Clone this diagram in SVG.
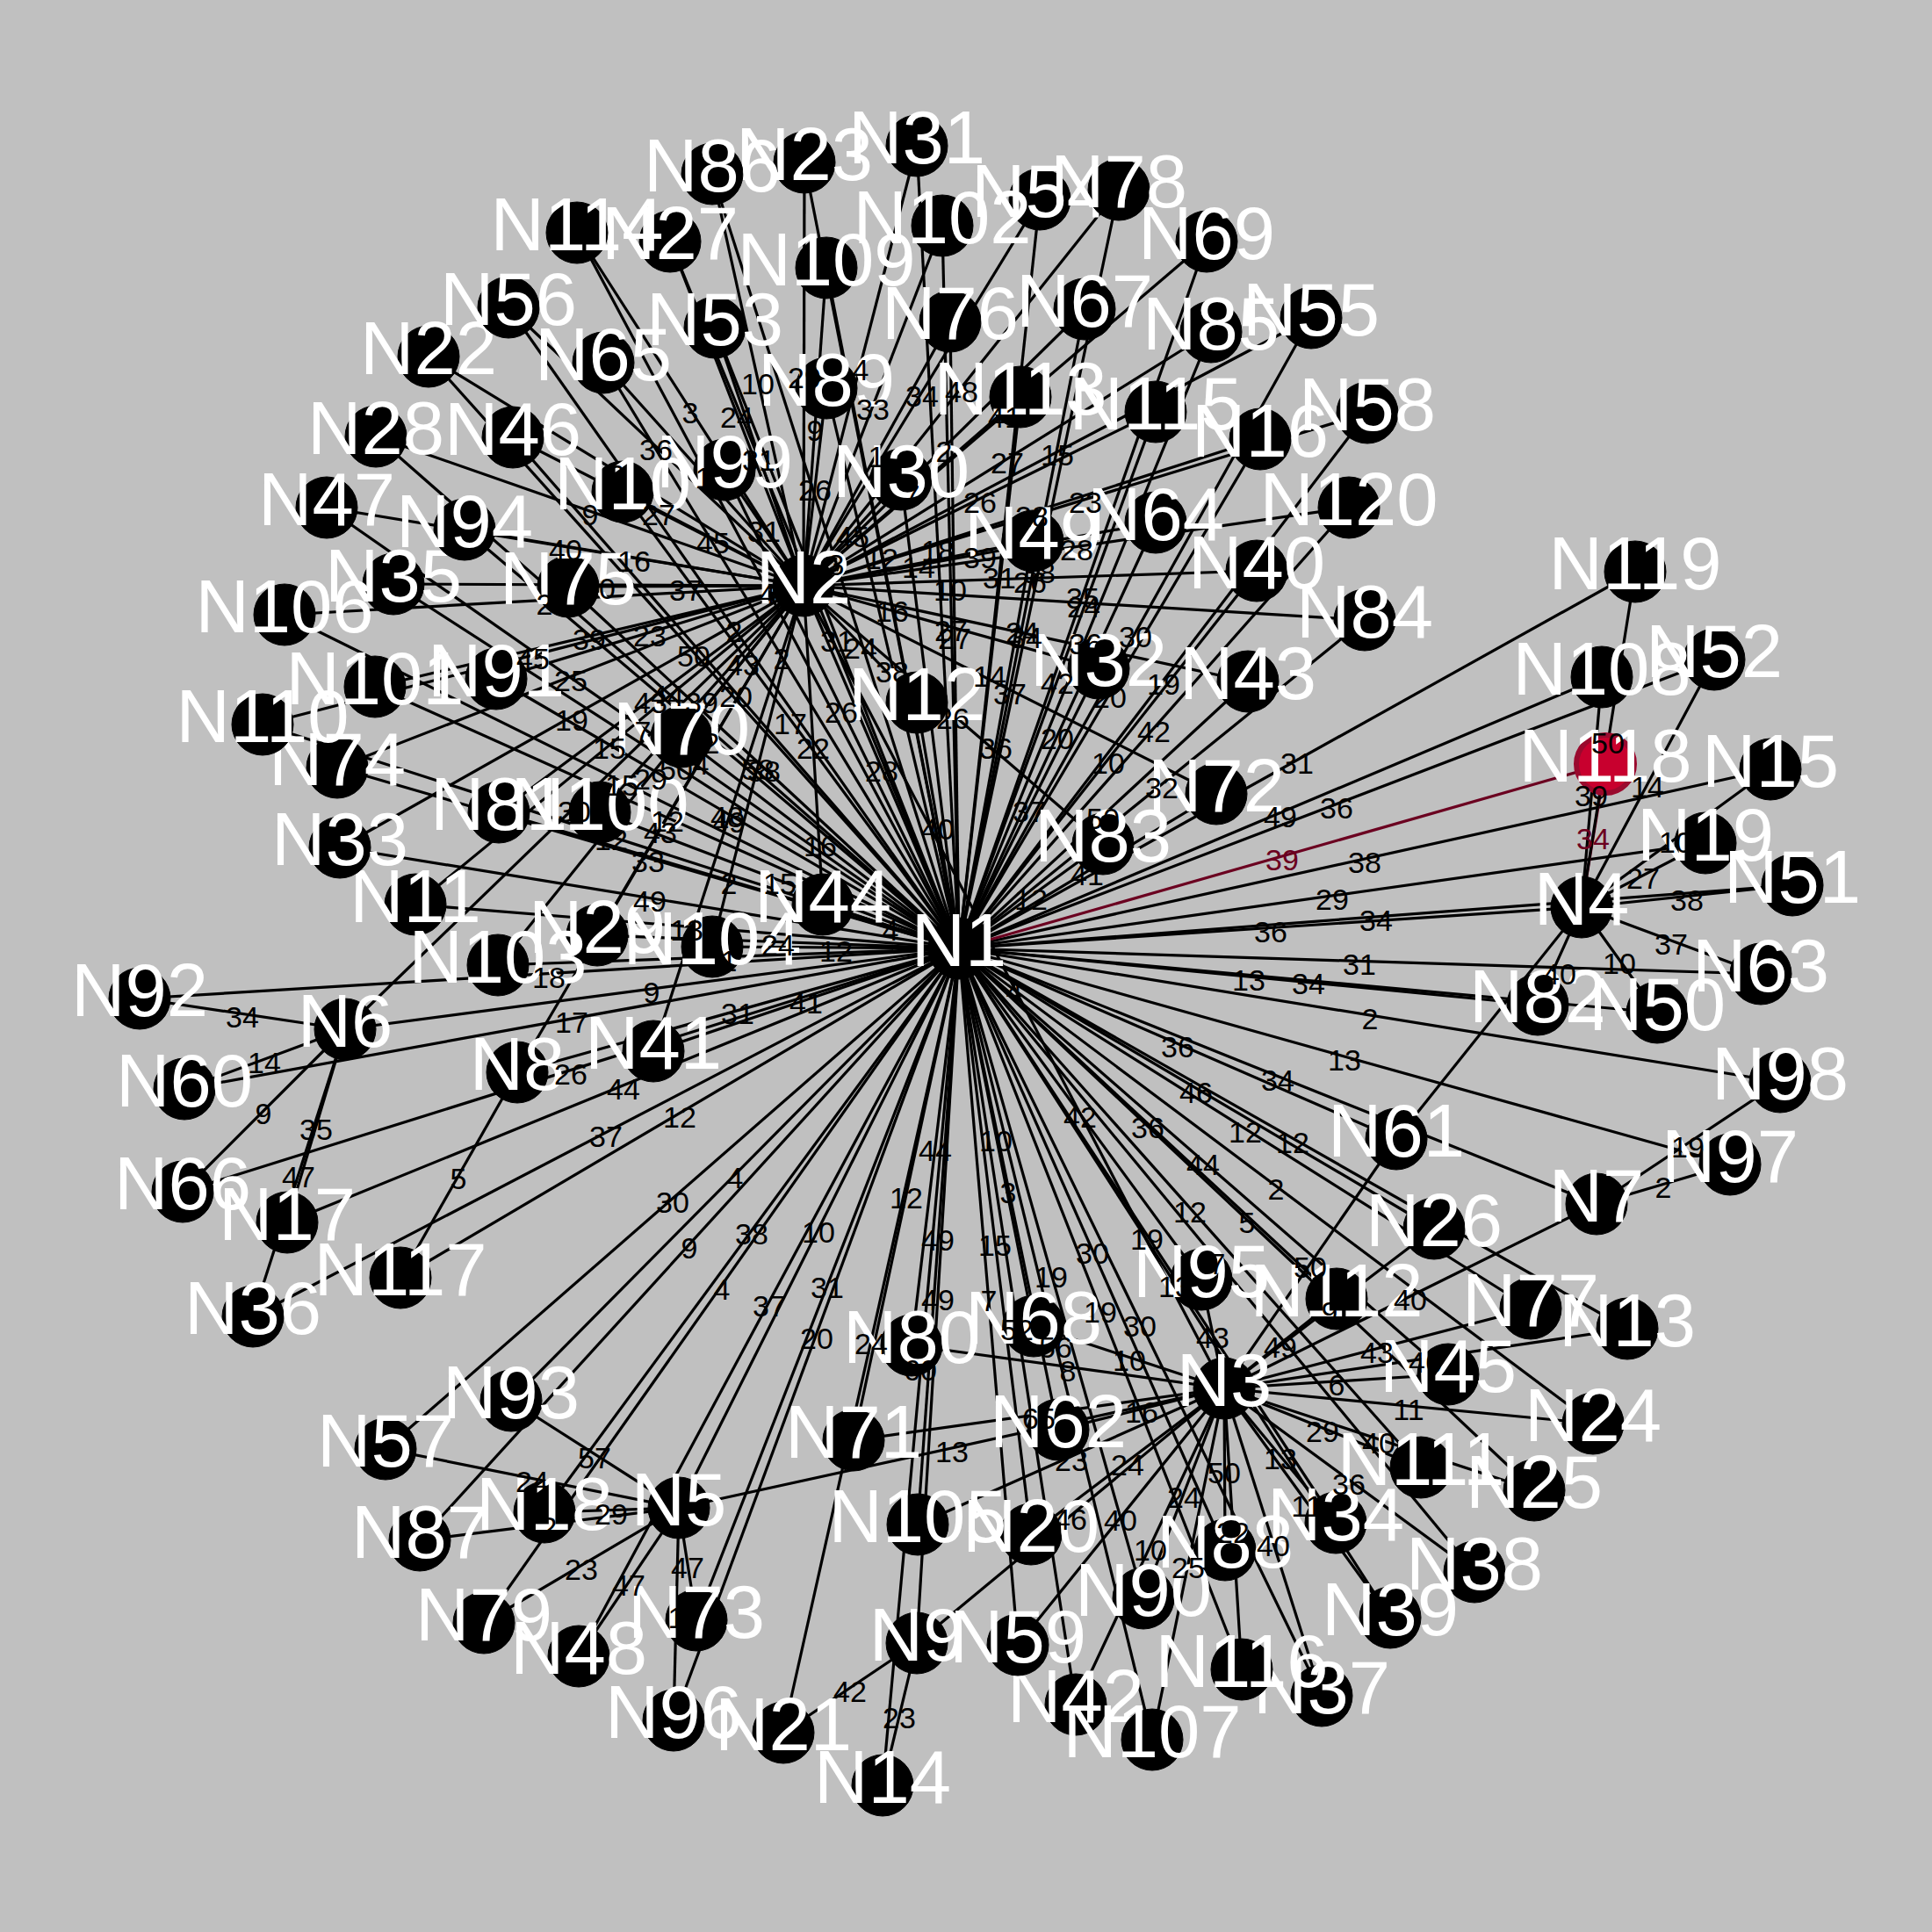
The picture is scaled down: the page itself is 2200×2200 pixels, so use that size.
<svg xmlns="http://www.w3.org/2000/svg" width="2200" height="2200" viewBox="0 0 2200 2200">
<style>
text{font-family:"Liberation Sans",Arial,sans-serif;text-anchor:middle}
.n circle{fill:#000;stroke:#000;stroke-width:1}
.n text{fill:#fff;font-size:85px}
.r circle{fill:#c8002e;stroke:#9a0a2e;stroke-width:6}
#connectors path{fill:none;stroke:#000;stroke-width:3.2}
#connectors path.h{stroke:#6b0020}
#edge-labels text{font-size:34px;fill:#000}
#edge-labels text.h{fill:#6b0020}
</style>
<rect width="2200" height="2200" fill="#c0c0c0"/>
<g id="connectors">
<path d="M1092 1080L915 667"/><path d="M1092 1080L1801 1033"/><path d="M1092 1080L773 1717"/><path d="M1092 1080L393 1172"/><path d="M1092 1080L1818 1371"/><path d="M1092 1080L589 1221"/><path d="M1092 1080L1044 1871"/><path d="M1092 1080L709 560"/><path d="M1092 1080L473 1030"/><path d="M1092 1080L1044 800"/><path d="M1092 1080L1853 1513"/><path d="M1092 1080L1005 2033"/><path d="M1092 1080L2016 876"/><path d="M1092 1080L1435 500"/><path d="M1092 1080L327 1392"/><path d="M1092 1080L620 1722"/><path d="M1092 1080L1942 960"/><path d="M1092 1080L1174 1747"/><path d="M1092 1080L892 1973"/><path d="M1092 1080L488 406"/><path d="M1092 1080L916 185"/><path d="M1092 1080L1814 1621"/><path d="M1092 1080L1747 1697"/><path d="M1092 1080L1633 1399"/><path d="M1092 1080L763 275"/><path d="M1092 1080L428 497"/><path d="M1092 1080L680 1065"/><path d="M1092 1080L1026 546"/><path d="M1092 1080L1044 166"/><path d="M1092 1080L1251 761"/><path d="M1092 1080L387 965"/><path d="M1092 1080L1521 1734"/><path d="M1092 1080L448 665"/><path d="M1092 1080L288 1499"/><path d="M1092 1080L1505 1931"/><path d="M1092 1080L1679 1790"/><path d="M1092 1080L1583 1842"/><path d="M1092 1080L1431 650"/><path d="M1092 1080L744 1197"/><path d="M1092 1080L1225 1941"/><path d="M1092 1080L1421 776"/><path d="M1092 1080L937 1030"/><path d="M1092 1080L1649 1565"/><path d="M1092 1080L584 498"/><path d="M1092 1080L372 578"/><path d="M1092 1080L659 1886"/><path d="M1092 1080L1176 616"/><path d="M1092 1080L1887 1153"/><path d="M1092 1080L2041 1008"/><path d="M1092 1080L1952 751"/><path d="M1092 1080L814 373"/><path d="M1092 1080L1184 227"/><path d="M1092 1080L1493 362"/><path d="M1092 1080L579 350"/><path d="M1092 1080L439 1650"/><path d="M1092 1080L1557 470"/><path d="M1092 1080L1159 1873"/><path d="M1092 1080L210 1240"/><path d="M1092 1080L1590 1297"/><path d="M1092 1080L1205 1628"/><path d="M1092 1080L2005 1109"/><path d="M1092 1080L1316 595"/><path d="M1092 1080L687 413"/><path d="M1092 1080L208 1357"/><path d="M1092 1080L1235 352"/><path d="M1092 1080L1177 1510"/><path d="M1092 1080L1374 275"/><path d="M1092 1080L776 839"/><path d="M1092 1080L972 1640"/><path d="M1092 1080L1385 904"/><path d="M1092 1080L793 1845"/><path d="M1092 1080L384 874"/><path d="M1092 1080L647 668"/><path d="M1092 1080L1082 366"/><path d="M1092 1080L1743 1490"/><path d="M1092 1080L1274 216"/><path d="M1092 1080L551 1848"/><path d="M1092 1080L1038 1532"/><path d="M1092 1080L568 925"/><path d="M1092 1080L1751 1144"/><path d="M1092 1080L1256 961"/><path d="M1092 1080L1554 706"/><path d="M1092 1080L1379 378"/><path d="M1092 1080L811 198"/><path d="M1092 1080L478 1754"/><path d="M1092 1080L1395 1765"/><path d="M1092 1080L941 442"/><path d="M1092 1080L1302 1820"/><path d="M1092 1080L565 773"/><path d="M1092 1080L159 1137"/><path d="M1092 1080L582 1595"/><path d="M1092 1080L529 603"/><path d="M1092 1080L1368 1457"/><path d="M1092 1080L767 1959"/><path d="M1092 1080L1970 1326"/><path d="M1092 1080L2027 1232"/><path d="M1092 1080L825 535"/><path d="M1092 1080L683 925"/><path d="M1092 1080L427 782"/><path d="M1092 1080L1073 257"/><path d="M1092 1080L567 1099"/><path d="M1092 1080L811 1078"/><path d="M1092 1080L1045 1736"/><path d="M1092 1080L324 700"/><path d="M1092 1080L1312 1981"/><path d="M1092 1080L1824 771"/><path d="M1092 1080L941 305"/><path d="M1092 1080L299 825"/><path d="M1092 1080L1618 1671"/><path d="M1092 1080L1522 1479"/><path d="M1092 1080L1162 452"/><path d="M1092 1080L657 265"/><path d="M1092 1080L1316 469"/><path d="M1092 1080L1414 1901"/><path d="M1092 1080L456 1455"/><path class="h" d="M1092 1080L1828 870"/><path d="M1092 1080L1862 651"/><path d="M1092 1080L1536 578"/>
<path d="M915 667L1394 1581"/><path d="M915 667L393 1172"/><path d="M915 667L589 1221"/><path d="M915 667L709 560"/><path d="M915 667L473 1030"/><path d="M915 667L1044 800"/><path d="M915 667L1435 500"/><path d="M915 667L488 406"/><path d="M915 667L916 185"/><path d="M915 667L763 275"/><path d="M915 667L428 497"/><path d="M915 667L680 1065"/><path d="M915 667L1026 546"/><path d="M915 667L1044 166"/><path d="M915 667L1251 761"/><path d="M915 667L387 965"/><path d="M915 667L448 665"/><path d="M915 667L1431 650"/><path d="M915 667L744 1197"/><path d="M915 667L1421 776"/><path d="M915 667L937 1030"/><path d="M915 667L584 498"/><path d="M915 667L372 578"/><path d="M915 667L1176 616"/><path d="M915 667L814 373"/><path d="M915 667L1184 227"/><path d="M915 667L1493 362"/><path d="M915 667L579 350"/><path d="M915 667L1557 470"/><path d="M915 667L1316 595"/><path d="M915 667L687 413"/><path d="M915 667L1235 352"/><path d="M915 667L1374 275"/><path d="M915 667L776 839"/><path d="M915 667L1385 904"/><path d="M915 667L384 874"/><path d="M915 667L647 668"/><path d="M915 667L1082 366"/><path d="M915 667L1274 216"/><path d="M915 667L568 925"/><path d="M915 667L1256 961"/><path d="M915 667L1554 706"/><path d="M915 667L1379 378"/><path d="M915 667L811 198"/><path d="M915 667L941 442"/><path d="M915 667L565 773"/><path d="M915 667L529 603"/><path d="M915 667L825 535"/><path d="M915 667L683 925"/><path d="M915 667L427 782"/><path d="M915 667L1073 257"/><path d="M915 667L567 1099"/><path d="M915 667L811 1078"/><path d="M915 667L324 700"/><path d="M915 667L941 305"/><path d="M915 667L299 825"/><path d="M915 667L1162 452"/><path d="M915 667L657 265"/><path d="M915 667L1316 469"/><path d="M915 667L1536 578"/>
<path d="M1394 1581L773 1717"/><path d="M1394 1581L1818 1371"/><path d="M1394 1581L1044 1871"/><path d="M1394 1581L1853 1513"/><path d="M1394 1581L1174 1747"/><path d="M1394 1581L1814 1621"/><path d="M1394 1581L1747 1697"/><path d="M1394 1581L1633 1399"/><path d="M1394 1581L1521 1734"/><path d="M1394 1581L1505 1931"/><path d="M1394 1581L1679 1790"/><path d="M1394 1581L1583 1842"/><path d="M1394 1581L1225 1941"/><path d="M1394 1581L1649 1565"/><path d="M1394 1581L1159 1873"/><path d="M1394 1581L1590 1297"/><path d="M1394 1581L1205 1628"/><path d="M1394 1581L1177 1510"/><path d="M1394 1581L972 1640"/><path d="M1394 1581L1743 1490"/><path d="M1394 1581L1038 1532"/><path d="M1394 1581L1395 1765"/><path d="M1394 1581L1302 1820"/><path d="M1394 1581L1368 1457"/><path d="M1394 1581L1045 1736"/><path d="M1394 1581L1312 1981"/><path d="M1394 1581L1618 1671"/><path d="M1394 1581L1522 1479"/><path d="M1394 1581L1414 1901"/>
<path d="M1801 1033L2016 876"/><path d="M1801 1033L1942 960"/><path d="M1801 1033L1887 1153"/><path d="M1801 1033L2041 1008"/><path d="M1801 1033L1952 751"/><path d="M1801 1033L1590 1297"/><path d="M1801 1033L2005 1109"/><path d="M1801 1033L1751 1144"/><path d="M1801 1033L1824 771"/><path class="h" d="M1801 1033L1828 870"/><path d="M1801 1033L1862 651"/>
<path d="M773 1717L620 1722"/><path d="M773 1717L659 1886"/><path d="M773 1717L439 1650"/><path d="M773 1717L793 1845"/><path d="M773 1717L551 1848"/><path d="M773 1717L478 1754"/><path d="M773 1717L582 1595"/><path d="M773 1717L767 1959"/>
<path d="M393 1172L327 1392"/><path d="M393 1172L288 1499"/><path d="M393 1172L210 1240"/><path d="M393 1172L208 1357"/><path d="M393 1172L159 1137"/>
<path d="M1818 1371L1970 1326"/><path d="M1818 1371L2027 1232"/>
<path d="M589 1221L456 1455"/><path d="M1044 1871L1005 2033"/><path d="M1044 1871L892 1973"/>
</g>
<g id="n1" class="n"><circle cx="1092" cy="1080" r="35"/><text x="1092" y="1100">N1</text></g>
<g id="n2" class="n"><circle cx="915" cy="667" r="35"/><text x="915" y="687">N2</text></g>
<g id="n3" class="n"><circle cx="1394" cy="1581" r="35"/><text x="1394" y="1601">N3</text></g>
<g id="n4" class="n"><circle cx="1801" cy="1033" r="35"/><text x="1801" y="1053">N4</text></g>
<g id="n5" class="n"><circle cx="773" cy="1717" r="35"/><text x="773" y="1737">N5</text></g>
<g id="n6" class="n"><circle cx="393" cy="1172" r="35"/><text x="393" y="1192">N6</text></g>
<g id="n7" class="n"><circle cx="1818" cy="1371" r="35"/><text x="1818" y="1391">N7</text></g>
<g id="n8" class="n"><circle cx="589" cy="1221" r="35"/><text x="589" y="1241">N8</text></g>
<g id="n9" class="n"><circle cx="1044" cy="1871" r="35"/><text x="1044" y="1891">N9</text></g>
<g id="n10" class="n"><circle cx="709" cy="560" r="35"/><text x="709" y="580">N10</text></g>
<g id="n11" class="n"><circle cx="473" cy="1030" r="35"/><text x="473" y="1050">N11</text></g>
<g id="n12" class="n"><circle cx="1044" cy="800" r="35"/><text x="1044" y="820">N12</text></g>
<g id="n13" class="n"><circle cx="1853" cy="1513" r="35"/><text x="1853" y="1533">N13</text></g>
<g id="n14" class="n"><circle cx="1005" cy="2033" r="35"/><text x="1005" y="2053">N14</text></g>
<g id="n15" class="n"><circle cx="2016" cy="876" r="35"/><text x="2016" y="896">N15</text></g>
<g id="n16" class="n"><circle cx="1435" cy="500" r="35"/><text x="1435" y="520">N16</text></g>
<g id="n17" class="n"><circle cx="327" cy="1392" r="35"/><text x="327" y="1412">N17</text></g>
<g id="n18" class="n"><circle cx="620" cy="1722" r="35"/><text x="620" y="1742">N18</text></g>
<g id="n19" class="n"><circle cx="1942" cy="960" r="35"/><text x="1942" y="980">N19</text></g>
<g id="n20" class="n"><circle cx="1174" cy="1747" r="35"/><text x="1174" y="1767">N20</text></g>
<g id="n21" class="n"><circle cx="892" cy="1973" r="35"/><text x="892" y="1993">N21</text></g>
<g id="n22" class="n"><circle cx="488" cy="406" r="35"/><text x="488" y="426">N22</text></g>
<g id="n23" class="n"><circle cx="916" cy="185" r="35"/><text x="916" y="205">N23</text></g>
<g id="n24" class="n"><circle cx="1814" cy="1621" r="35"/><text x="1814" y="1641">N24</text></g>
<g id="n25" class="n"><circle cx="1747" cy="1697" r="35"/><text x="1747" y="1717">N25</text></g>
<g id="n26" class="n"><circle cx="1633" cy="1399" r="35"/><text x="1633" y="1419">N26</text></g>
<g id="n27" class="n"><circle cx="763" cy="275" r="35"/><text x="763" y="295">N27</text></g>
<g id="n28" class="n"><circle cx="428" cy="497" r="35"/><text x="428" y="517">N28</text></g>
<g id="n29" class="n"><circle cx="680" cy="1065" r="35"/><text x="680" y="1085">N29</text></g>
<g id="n30" class="n"><circle cx="1026" cy="546" r="35"/><text x="1026" y="566">N30</text></g>
<g id="n31" class="n"><circle cx="1044" cy="166" r="35"/><text x="1044" y="186">N31</text></g>
<g id="n32" class="n"><circle cx="1251" cy="761" r="35"/><text x="1251" y="781">N32</text></g>
<g id="n33" class="n"><circle cx="387" cy="965" r="35"/><text x="387" y="985">N33</text></g>
<g id="n34" class="n"><circle cx="1521" cy="1734" r="35"/><text x="1521" y="1754">N34</text></g>
<g id="n35" class="n"><circle cx="448" cy="665" r="35"/><text x="448" y="685">N35</text></g>
<g id="n36" class="n"><circle cx="288" cy="1499" r="35"/><text x="288" y="1519">N36</text></g>
<g id="n37" class="n"><circle cx="1505" cy="1931" r="35"/><text x="1505" y="1951">N37</text></g>
<g id="n38" class="n"><circle cx="1679" cy="1790" r="35"/><text x="1679" y="1810">N38</text></g>
<g id="n39" class="n"><circle cx="1583" cy="1842" r="35"/><text x="1583" y="1862">N39</text></g>
<g id="n40" class="n"><circle cx="1431" cy="650" r="35"/><text x="1431" y="670">N40</text></g>
<g id="n41" class="n"><circle cx="744" cy="1197" r="35"/><text x="744" y="1217">N41</text></g>
<g id="n42" class="n"><circle cx="1225" cy="1941" r="35"/><text x="1225" y="1961">N42</text></g>
<g id="n43" class="n"><circle cx="1421" cy="776" r="35"/><text x="1421" y="796">N43</text></g>
<g id="n44" class="n"><circle cx="937" cy="1030" r="35"/><text x="937" y="1050">N44</text></g>
<g id="n45" class="n"><circle cx="1649" cy="1565" r="35"/><text x="1649" y="1585">N45</text></g>
<g id="n46" class="n"><circle cx="584" cy="498" r="35"/><text x="584" y="518">N46</text></g>
<g id="n47" class="n"><circle cx="372" cy="578" r="35"/><text x="372" y="598">N47</text></g>
<g id="n48" class="n"><circle cx="659" cy="1886" r="35"/><text x="659" y="1906">N48</text></g>
<g id="n49" class="n"><circle cx="1176" cy="616" r="35"/><text x="1176" y="636">N49</text></g>
<g id="n50" class="n"><circle cx="1887" cy="1153" r="35"/><text x="1887" y="1173">N50</text></g>
<g id="n51" class="n"><circle cx="2041" cy="1008" r="35"/><text x="2041" y="1028">N51</text></g>
<g id="n52" class="n"><circle cx="1952" cy="751" r="35"/><text x="1952" y="771">N52</text></g>
<g id="n53" class="n"><circle cx="814" cy="373" r="35"/><text x="814" y="393">N53</text></g>
<g id="n54" class="n"><circle cx="1184" cy="227" r="35"/><text x="1184" y="247">N54</text></g>
<g id="n55" class="n"><circle cx="1493" cy="362" r="35"/><text x="1493" y="382">N55</text></g>
<g id="n56" class="n"><circle cx="579" cy="350" r="35"/><text x="579" y="370">N56</text></g>
<g id="n57" class="n"><circle cx="439" cy="1650" r="35"/><text x="439" y="1670">N57</text></g>
<g id="n58" class="n"><circle cx="1557" cy="470" r="35"/><text x="1557" y="490">N58</text></g>
<g id="n59" class="n"><circle cx="1159" cy="1873" r="35"/><text x="1159" y="1893">N59</text></g>
<g id="n60" class="n"><circle cx="210" cy="1240" r="35"/><text x="210" y="1260">N60</text></g>
<g id="n61" class="n"><circle cx="1590" cy="1297" r="35"/><text x="1590" y="1317">N61</text></g>
<g id="n62" class="n"><circle cx="1205" cy="1628" r="35"/><text x="1205" y="1648">N62</text></g>
<g id="n63" class="n"><circle cx="2005" cy="1109" r="35"/><text x="2005" y="1129">N63</text></g>
<g id="n64" class="n"><circle cx="1316" cy="595" r="35"/><text x="1316" y="615">N64</text></g>
<g id="n65" class="n"><circle cx="687" cy="413" r="35"/><text x="687" y="433">N65</text></g>
<g id="n66" class="n"><circle cx="208" cy="1357" r="35"/><text x="208" y="1377">N66</text></g>
<g id="n67" class="n"><circle cx="1235" cy="352" r="35"/><text x="1235" y="372">N67</text></g>
<g id="n68" class="n"><circle cx="1177" cy="1510" r="35"/><text x="1177" y="1530">N68</text></g>
<g id="n69" class="n"><circle cx="1374" cy="275" r="35"/><text x="1374" y="295">N69</text></g>
<g id="n70" class="n"><circle cx="776" cy="839" r="35"/><text x="776" y="859">N70</text></g>
<g id="n71" class="n"><circle cx="972" cy="1640" r="35"/><text x="972" y="1660">N71</text></g>
<g id="n72" class="n"><circle cx="1385" cy="904" r="35"/><text x="1385" y="924">N72</text></g>
<g id="n73" class="n"><circle cx="793" cy="1845" r="35"/><text x="793" y="1865">N73</text></g>
<g id="n74" class="n"><circle cx="384" cy="874" r="35"/><text x="384" y="894">N74</text></g>
<g id="n75" class="n"><circle cx="647" cy="668" r="35"/><text x="647" y="688">N75</text></g>
<g id="n76" class="n"><circle cx="1082" cy="366" r="35"/><text x="1082" y="386">N76</text></g>
<g id="n77" class="n"><circle cx="1743" cy="1490" r="35"/><text x="1743" y="1510">N77</text></g>
<g id="n78" class="n"><circle cx="1274" cy="216" r="35"/><text x="1274" y="236">N78</text></g>
<g id="n79" class="n"><circle cx="551" cy="1848" r="35"/><text x="551" y="1868">N79</text></g>
<g id="n80" class="n"><circle cx="1038" cy="1532" r="35"/><text x="1038" y="1552">N80</text></g>
<g id="n81" class="n"><circle cx="568" cy="925" r="35"/><text x="568" y="945">N81</text></g>
<g id="n82" class="n"><circle cx="1751" cy="1144" r="35"/><text x="1751" y="1164">N82</text></g>
<g id="n83" class="n"><circle cx="1256" cy="961" r="35"/><text x="1256" y="981">N83</text></g>
<g id="n84" class="n"><circle cx="1554" cy="706" r="35"/><text x="1554" y="726">N84</text></g>
<g id="n85" class="n"><circle cx="1379" cy="378" r="35"/><text x="1379" y="398">N85</text></g>
<g id="n86" class="n"><circle cx="811" cy="198" r="35"/><text x="811" y="218">N86</text></g>
<g id="n87" class="n"><circle cx="478" cy="1754" r="35"/><text x="478" y="1774">N87</text></g>
<g id="n88" class="n"><circle cx="1395" cy="1765" r="35"/><text x="1395" y="1785">N88</text></g>
<g id="n89" class="n"><circle cx="941" cy="442" r="35"/><text x="941" y="462">N89</text></g>
<g id="n90" class="n"><circle cx="1302" cy="1820" r="35"/><text x="1302" y="1840">N90</text></g>
<g id="n91" class="n"><circle cx="565" cy="773" r="35"/><text x="565" y="793">N91</text></g>
<g id="n92" class="n"><circle cx="159" cy="1137" r="35"/><text x="159" y="1157">N92</text></g>
<g id="n93" class="n"><circle cx="582" cy="1595" r="35"/><text x="582" y="1615">N93</text></g>
<g id="n94" class="n"><circle cx="529" cy="603" r="35"/><text x="529" y="623">N94</text></g>
<g id="n95" class="n"><circle cx="1368" cy="1457" r="35"/><text x="1368" y="1477">N95</text></g>
<g id="n96" class="n"><circle cx="767" cy="1959" r="35"/><text x="767" y="1979">N96</text></g>
<g id="n97" class="n"><circle cx="1970" cy="1326" r="35"/><text x="1970" y="1346">N97</text></g>
<g id="n98" class="n"><circle cx="2027" cy="1232" r="35"/><text x="2027" y="1252">N98</text></g>
<g id="n99" class="n"><circle cx="825" cy="535" r="35"/><text x="825" y="555">N99</text></g>
<g id="n100" class="n"><circle cx="683" cy="925" r="35"/><text x="683" y="945">N100</text></g>
<g id="n101" class="n"><circle cx="427" cy="782" r="35"/><text x="427" y="802">N101</text></g>
<g id="n102" class="n"><circle cx="1073" cy="257" r="35"/><text x="1073" y="277">N102</text></g>
<g id="n103" class="n"><circle cx="567" cy="1099" r="35"/><text x="567" y="1119">N103</text></g>
<g id="n104" class="n"><circle cx="811" cy="1078" r="35"/><text x="811" y="1098">N104</text></g>
<g id="n105" class="n"><circle cx="1045" cy="1736" r="35"/><text x="1045" y="1756">N105</text></g>
<g id="n106" class="n"><circle cx="324" cy="700" r="35"/><text x="324" y="720">N106</text></g>
<g id="n107" class="n"><circle cx="1312" cy="1981" r="35"/><text x="1312" y="2001">N107</text></g>
<g id="n108" class="n"><circle cx="1824" cy="771" r="35"/><text x="1824" y="791">N108</text></g>
<g id="n109" class="n"><circle cx="941" cy="305" r="35"/><text x="941" y="325">N109</text></g>
<g id="n110" class="n"><circle cx="299" cy="825" r="35"/><text x="299" y="845">N110</text></g>
<g id="n111" class="n"><circle cx="1618" cy="1671" r="35"/><text x="1618" y="1691">N111</text></g>
<g id="n112" class="n"><circle cx="1522" cy="1479" r="35"/><text x="1522" y="1499">N112</text></g>
<g id="n113" class="n"><circle cx="1162" cy="452" r="35"/><text x="1162" y="472">N113</text></g>
<g id="n114" class="n"><circle cx="657" cy="265" r="35"/><text x="657" y="285">N114</text></g>
<g id="n115" class="n"><circle cx="1316" cy="469" r="35"/><text x="1316" y="489">N115</text></g>
<g id="n116" class="n"><circle cx="1414" cy="1901" r="35"/><text x="1414" y="1921">N116</text></g>
<g id="n117" class="n"><circle cx="456" cy="1455" r="35"/><text x="456" y="1475">N117</text></g>
<g id="n118" class="n r"><circle cx="1828" cy="870" r="33"/><text x="1828" y="890">N118</text></g>
<g id="n119" class="n"><circle cx="1862" cy="651" r="35"/><text x="1862" y="671">N119</text></g>
<g id="n120" class="n"><circle cx="1536" cy="578" r="35"/><text x="1536" y="598">N120</text></g>
<g id="edge-labels">
<text x="1004" y="890">28</text><text x="1447" y="1073">36</text><text x="932" y="1415">10</text><text x="742" y="1142">9</text><text x="1455" y="1242">34</text><text x="840" y="1166">31</text><text x="1068" y="1492">49</text><text x="900" y="836">17</text><text x="782" y="1071">13</text><text x="1068" y="956">40</text><text x="1472" y="1313">12</text><text x="1048" y="1572">60</text><text x="1554" y="994">38</text><text x="1264" y="806">20</text><text x="710" y="1252">44</text><text x="856" y="1417">38</text><text x="1517" y="1036">29</text><text x="1133" y="1430">15</text><text x="992" y="1542">24</text><text x="790" y="759">50</text><text x="1004" y="648">12</text><text x="1453" y="1366">2</text><text x="1420" y="1404">5</text><text x="1362" y="1256">46</text><text x="760" y="804">44</text><text x="886" y="1088">24</text><text x="1068" y="639">18</text><text x="1172" y="936">37</text><text x="740" y="1038">49</text><text x="1306" y="1423">19</text><text x="770" y="888">50</text><text x="690" y="1306">37</text><text x="1298" y="1522">30</text><text x="1386" y="1451">7</text><text x="1338" y="1477">13</text><text x="1262" y="881">10</text><text x="918" y="1154">41</text><text x="1158" y="1526">52</text><text x="1256" y="944">50</text><text x="1014" y="1071">4</text><text x="1370" y="1338">44</text><text x="838" y="805">20</text><text x="732" y="845">7</text><text x="876" y="1499">37</text><text x="1134" y="864">36</text><text x="1490" y="1132">34</text><text x="1567" y="1060">34</text><text x="1522" y="932">36</text><text x="953" y="742">31</text><text x="1138" y="670">31</text><text x="1293" y="737">30</text><text x="836" y="731">2</text><text x="766" y="1381">30</text><text x="1325" y="791">19</text><text x="1126" y="1493">7</text><text x="651" y="1176">17</text><text x="1341" y="1204">36</text><text x="1148" y="1370">3</text><text x="1548" y="1110">31</text><text x="1204" y="853">20</text><text x="890" y="762">2</text><text x="650" y="1235">26</text><text x="1164" y="732">24</text><text x="1134" y="1311">10</text><text x="1233" y="693">35</text><text x="934" y="975">16</text><text x="1032" y="1376">12</text><text x="1238" y="1008">41</text><text x="942" y="1478">31</text><text x="738" y="993">33</text><text x="870" y="890">38</text><text x="1087" y="739">27</text><text x="1418" y="1301">12</text><text x="1183" y="664">38</text><text x="822" y="1480">4</text><text x="1065" y="1322">44</text><text x="830" y="1018">2</text><text x="1422" y="1128">13</text><text x="1174" y="1036">12</text><text x="1323" y="909">32</text><text x="1236" y="745">36</text><text x="952" y="655">3</text><text x="785" y="1433">9</text><text x="1244" y="1439">30</text><text x="1016" y="777">38</text><text x="1197" y="1466">19</text><text x="828" y="942">48</text><text x="625" y="1125">18</text><text x="837" y="1353">4</text><text x="810" y="858">2</text><text x="1230" y="1284">42</text><text x="930" y="1536">20</text><text x="1531" y="1219">13</text><text x="1560" y="1172">2</text><text x="958" y="823">26</text><text x="888" y="1018">15</text><text x="760" y="947">12</text><text x="1082" y="684">10</text><text x="830" y="1106">1</text><text x="952" y="1095">12</text><text x="1068" y="1424">49</text><text x="708" y="906">15</text><text x="1202" y="1546">56</text><text x="1458" y="942">49</text><text x="1016" y="708">16</text><text x="696" y="968">12</text><text x="1355" y="1392">12</text><text x="1307" y="1296">36</text><text x="1127" y="782">14</text><text x="874" y="688">4</text><text x="1204" y="790">42</text><text x="1253" y="1506">19</text><text x="774" y="1284">12</text><text class="h" x="1460" y="991">39</text><text x="1477" y="881">31</text><text x="1314" y="845">42</text>
<text x="1155" y="1140">4</text><text x="654" y="936">30</text><text x="752" y="960">43</text><text x="812" y="630">45</text><text x="694" y="864">15</text><text x="980" y="750">24</text><text x="1175" y="600">28</text><text x="702" y="553">6</text><text x="916" y="442">29</text><text x="839" y="487">24</text><text x="672" y="598">9</text><text x="798" y="882">4</text><text x="971" y="623">45</text><text x="980" y="433">4</text><text x="1083" y="730">27</text><text x="651" y="832">19</text><text x="682" y="682">30</text><text x="1173" y="675">26</text><text x="830" y="948">49</text><text x="1168" y="738">34</text><text x="926" y="864">22</text><text x="750" y="598">27</text><text x="644" y="638">40</text><text x="1046" y="658">14</text><text x="864" y="536">31</text><text x="1050" y="463">34</text><text x="1204" y="530">15</text><text x="747" y="524">36</text><text x="1236" y="584">23</text><text x="1116" y="647">39</text><text x="801" y="556">1</text><text x="1075" y="526">2</text><text x="1144" y="487">41</text><text x="846" y="769">43</text><text x="1150" y="802">37</text><text x="650" y="787">25</text><text x="781" y="684">37</text><text x="998" y="532">1</text><text x="1095" y="458">48</text><text x="741" y="812">43</text><text x="1085" y="830">26</text><text x="1234" y="703">24</text><text x="1147" y="539">27</text><text x="863" y="449">10</text><text x="928" y="570">26</text><text x="740" y="736">23</text><text x="722" y="651">16</text><text x="870" y="617">31</text><text x="799" y="812">39</text><text x="671" y="740">39</text><text x="994" y="478">33</text><text x="741" y="899">29</text><text x="863" y="888">58</text><text x="620" y="700">2</text><text x="928" y="502">9</text><text x="607" y="762">45</text><text x="1038" y="576">7</text><text x="786" y="482">3</text><text x="1116" y="584">26</text><text x="1226" y="638">28</text>
<text x="1084" y="1665">13</text><text x="1606" y="1492">40</text><text x="1219" y="1742">46</text><text x="1623" y="1563">46</text><text x="1284" y="1680">24</text><text x="1604" y="1617">11</text><text x="1570" y="1655">40</text><text x="1514" y="1506">9</text><text x="1458" y="1673">13</text><text x="1450" y="1772">40</text><text x="1536" y="1702">36</text><text x="1488" y="1727">11</text><text x="1310" y="1777">10</text><text x="1522" y="1589">6</text><text x="1276" y="1743">40</text><text x="1492" y="1455">50</text><text x="1300" y="1620">16</text><text x="1286" y="1561">10</text><text x="1183" y="1627">65</text><text x="1568" y="1552">43</text><text x="1216" y="1573">8</text><text x="1394" y="1689">50</text><text x="1348" y="1717">24</text><text x="1381" y="1535">43</text><text x="1220" y="1675">23</text><text x="1353" y="1797">25</text><text x="1506" y="1642">29</text><text x="1458" y="1546">49</text><text x="1404" y="1757">22</text>
<text x="1908" y="971">10</text><text x="1871" y="1012">27</text><text x="1844" y="1109">10</text><text x="1921" y="1037">38</text><text x="1876" y="908">14</text><text x="1903" y="1087">37</text><text x="1776" y="1121">40</text><text x="1812" y="918">39</text><text class="h" x="1814" y="967">34</text><text x="1831" y="858">50</text>
<text x="696" y="1736">29</text><text x="716" y="1817">47</text><text x="606" y="1699">24</text><text x="783" y="1797">47</text><text x="662" y="1799">23</text><text x="625" y="1751">2</text><text x="677" y="1672">57</text><text x="770" y="1854">1</text>
<text x="360" y="1298">35</text><text x="340" y="1352">47</text><text x="301" y="1222">14</text><text x="300" y="1280">9</text><text x="276" y="1170">34</text>
<text x="1894" y="1364">2</text><text x="1922" y="1318">19</text><text x="522" y="1354">5</text><text x="1024" y="1968">23</text><text x="968" y="1938">42</text>
</g>
</svg>
